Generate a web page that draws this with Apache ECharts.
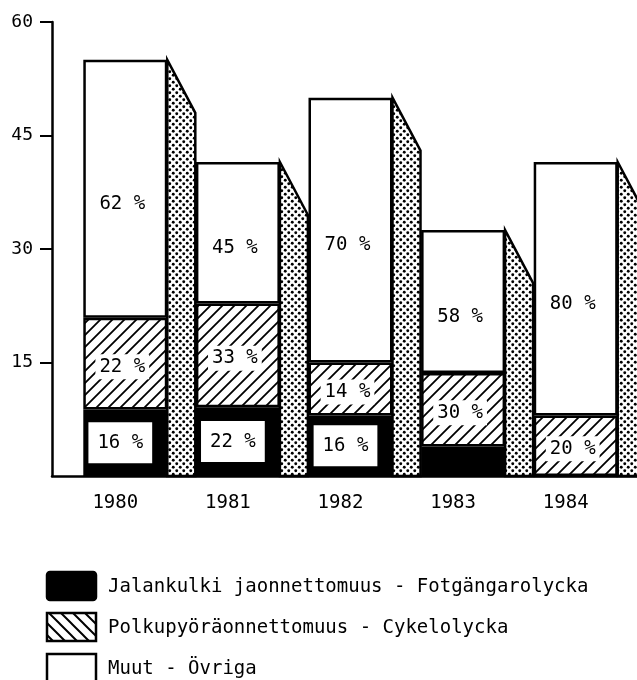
<!DOCTYPE html>
<html>
<head>
<meta charset="utf-8">
<script src="https://cdn.jsdelivr.net/npm/echarts@6/dist/echarts.min.js"></script>
<style>
  html, body { margin: 0; padding: 0; background: #fff; }
  #chart { width: 637px; height: 680px; }
</style>
</head>
<body>
<div id="chart"></div>
<script>
// Accidents per year, split by type (stack heights on the value axis)
const years = ['1980', '1981', '1982', '1983', '1984'];
const pedestrian = [8.8, 9.1, 8.0, 3.9, 0];
const cyclist = [12.1, 13.7, 7.0, 9.7, 8.0];
const other = [34.1, 18.7, 35.0, 18.9, 33.5];

// Share labels written on each segment
const pedestrianPct = ['16 %', '22 %', '16 %', '', ''];
const cyclistPct = ['22 %', '33 %', '14 %', '30 %', '20 %'];
const otherPct = ['62 %', '45 %', '70 %', '58 %', '80 %'];

// Value axis
const yMax = 60;
const yStep = 15;
const yTicks = [15, 30, 45, 60];

// Legend texts
const legendNames = [
  'Jalankulki jaonnettomuus - Fotgängarolycka',
  'Polkupyöräonnettomuus - Cykelolycka',
  'Muut - Övriga'
];

const FONT = '"DejaVu Sans Mono", "Liberation Mono", monospace';

// --- fill patterns -------------------------------------------------------
function hatchTile(size, width, back) {
  const c = document.createElement('canvas');
  c.width = size; c.height = size;
  const g = c.getContext('2d');
  g.strokeStyle = '#000';
  g.lineWidth = width;
  g.lineCap = 'square';
  g.beginPath();
  if (!back) {
    g.moveTo(-1, size + 1); g.lineTo(size + 1, -1);
    g.moveTo(-size / 2 - 1, size / 2 + 1); g.lineTo(size / 2 + 1, -size / 2 - 1);
    g.moveTo(size / 2 - 1, size * 1.5 + 1); g.lineTo(size * 1.5 + 1, size / 2 - 1);
  } else {
    g.moveTo(-1, -1); g.lineTo(size + 1, size + 1);
    g.moveTo(-size / 2 - 1, size / 2 - 1); g.lineTo(size / 2 + 1, size * 1.5 + 1);
    g.moveTo(size / 2 - 1, -size / 2 - 1); g.lineTo(size * 1.5 + 1, size / 2 + 1);
  }
  g.stroke();
  return c;
}

function dotTile(size, r) {
  const c = document.createElement('canvas');
  c.width = size; c.height = size;
  const g = c.getContext('2d');
  g.fillStyle = '#fff';
  g.fillRect(0, 0, size, size);
  g.fillStyle = '#000';
  [[size * 0.25, size * 0.25], [size * 0.75, size * 0.75]].forEach(function (p) {
    g.beginPath();
    g.arc(p[0], p[1], r, 0, Math.PI * 2);
    g.fill();
  });
  return c;
}

const hatchFill = { image: hatchTile(12, 1.8, false), repeat: 'repeat' };
const hatchLegendFill = { image: hatchTile(12, 2, true), repeat: 'repeat' };
const dotFill = { image: dotTile(7, 1.45), repeat: 'repeat' };

// --- series data ----------------------------------------------------------
function items(values, labels) {
  return values.map(function (v, i) {
    return { value: v, label: { show: labels[i] !== '', formatter: labels[i] } };
  });
}

const totals = years.map(function (_, i) { return pedestrian[i] + cyclist[i] + other[i]; });

const BAR_W = 84;
const SIDE_W = 28;
const SIDE_DROP = 53;

const labelFont = { fontFamily: FONT, fontSize: 19, color: '#000' };

const chart = echarts.init(document.getElementById('chart'), null, { renderer: 'canvas' });

const legendGraphics = [];
const legendRowY = [572, 613, 654];
const legendFills = ['#000', hatchLegendFill, '#fff'];
legendNames.forEach(function (name, i) {
  legendGraphics.push({
    type: 'rect',
    shape: { x: 47, y: legendRowY[i], width: 49, height: 28, r: i === 0 ? 3 : 0 },
    style: { fill: legendFills[i], stroke: '#000', lineWidth: 2.5 }
  });
  legendGraphics.push({
    type: 'text',
    x: 108,
    y: legendRowY[i] + 15,
    style: {
      text: name,
      fontFamily: FONT,
      fontSize: 19,
      fill: '#000',
      verticalAlign: 'middle'
    }
  });
});

chart.setOption({
  animation: false,
  backgroundColor: '#fff',
  grid: [
    { left: 69, right: 5, top: 22, bottom: 204 },
    { left: 52, right: 0, top: 22, bottom: 204 }
  ],
  xAxis: [
    {
      type: 'category',
      gridIndex: 0,
      data: years,
      axisLine: { show: false },
      axisTick: { show: false },
      axisLabel: {
        margin: 18,
        padding: [0, 20, 0, 0],
        fontFamily: FONT,
        fontSize: 19,
        color: '#000'
      }
    },
    {
      type: 'value',
      gridIndex: 1,
      min: 0,
      max: 1,
      axisLine: { show: true, lineStyle: { color: '#000', width: 2.5 } },
      axisTick: { show: false },
      axisLabel: { show: false },
      splitLine: { show: false }
    }
  ],
  yAxis: [
    {
      type: 'value',
      gridIndex: 0,
      min: 0,
      max: yMax,
      interval: yStep,
      offset: 17,
      axisLine: { show: true, lineStyle: { color: '#000', width: 2.5 } },
      axisTick: {
        show: true,
        length: 12,
        customValues: yTicks,
        lineStyle: { color: '#000', width: 2 }
      },
      axisLabel: {
        margin: 19,
        customValues: yTicks,
        fontFamily: FONT,
        fontSize: 18,
        color: '#000'
      },
      splitLine: { show: false }
    },
    {
      type: 'value',
      gridIndex: 1,
      min: 0,
      max: yMax,
      show: false
    }
  ],
  series: [
    {
      name: 'side',
      type: 'custom',
      xAxisIndex: 0,
      yAxisIndex: 0,
      z: 1,
      data: years.map(function (_, i) { return [i, totals[i]]; }),
      renderItem: function (params, api) {
        const top = api.coord([api.value(0), api.value(1)]);
        const base = api.coord([api.value(0), 0]);
        const x0 = top[0] + BAR_W / 2;
        const x1 = x0 + SIDE_W;
        const yTop = top[1];
        const yDrop = Math.min(yTop + SIDE_DROP, base[1]);
        return {
          type: 'polygon',
          shape: { points: [[x0, yTop], [x1, yDrop], [x1, base[1]], [x0, base[1]]] },
          style: { fill: dotFill, stroke: '#000', lineWidth: 2.5 }
        };
      }
    },
    {
      name: legendNames[0],
      type: 'bar',
      stack: 'all',
      z: 2,
      barWidth: BAR_W,
      data: items(pedestrian, pedestrianPct),
      itemStyle: { color: '#000', borderColor: '#000', borderWidth: 2.5 },
      label: Object.assign({
        position: 'inside',
        offset: [-5, 0],
        backgroundColor: '#fff',
        padding: [11, 9]
      }, labelFont)
    },
    {
      name: legendNames[1],
      type: 'bar',
      stack: 'all',
      z: 2,
      barWidth: BAR_W,
      data: items(cyclist, cyclistPct),
      itemStyle: { color: hatchFill, borderColor: '#000', borderWidth: 2.5 },
      label: Object.assign({
        position: 'inside',
        offset: [-3, 3],
        backgroundColor: '#fff',
        padding: [3, 4]
      }, labelFont)
    },
    {
      name: legendNames[2],
      type: 'bar',
      stack: 'all',
      z: 2,
      barWidth: BAR_W,
      data: items(other, otherPct),
      itemStyle: { color: '#fff', borderColor: '#000', borderWidth: 2.5 },
      label: Object.assign({
        position: 'inside',
        offset: [-3, 15]
      }, labelFont)
    }
  ],
  graphic: legendGraphics
});
</script>
</body>
</html>
